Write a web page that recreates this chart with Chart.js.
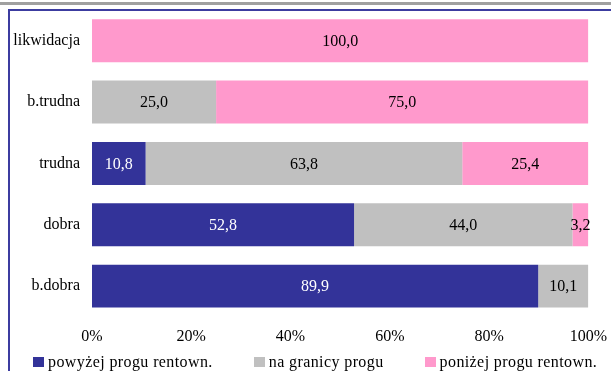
<!DOCTYPE html>
<html>
<head>
<meta charset="utf-8">
<script src="https://cdn.jsdelivr.net/npm/chart.js@4"></script>
<style>
    html, body { margin: 0; padding: 0; background: #fff; }
    #wrap { position: relative; width: 611px; height: 371px; overflow: hidden; }
    #topLine { position: absolute; left: 0; top: 2px; width: 611px; height: 3px; background: #a0a0a0; }
    #frameTop { position: absolute; left: 8px; top: 9px; width: 603px; height: 2px; background: #3c3ca0; }
    #frameLeft { position: absolute; left: 8px; top: 9px; width: 2px; height: 362px; background: #3c3ca0; }
    #chartBox { position: absolute; left: 0; top: 0; width: 617px; height: 356px; }
    #legend { position: absolute; left: 33px; top: 353px; display: flex; align-items: baseline; font-family: "Liberation Serif", "Times New Roman", Tinos, "DejaVu Serif", serif; font-size: 16px; line-height: 18px; letter-spacing: 0.4px; color: #000; white-space: nowrap; }
    #legend .item { display: flex; align-items: baseline; margin-right: 41px; }
    #legend .box { display: inline-block; width: 11px; height: 10px; margin-right: 4px; }
</style>
</head>
<body>
<div id="wrap">
    <div id="topLine"></div>
    <div id="frameTop"></div>
    <div id="frameLeft"></div>
    <div id="chartBox"><canvas id="barChart"></canvas></div>
    <div id="legend"></div>
</div>
<script>
// Categories (top to bottom)
const categories = ['likwidacja', 'b.trudna', 'trudna', 'dobra', 'b.dobra'];

// Series values (%)
const aboveThreshold = [0, 0, 10.8, 52.8, 89.9];
const atThreshold = [0, 25.0, 63.8, 44.0, 10.1];
const belowThreshold = [100.0, 75.0, 25.4, 3.2, 0];

const seriesNames = ['powyżej progu rentown.', 'na granicy progu', 'poniżej progu rentown.'];
const seriesColors = ['#333399', '#c0c0c0', '#ff99cc'];
const labelColors = ['#ffffff', '#000000', '#000000'];

const xTicks = [0, 20, 40, 60, 80, 100];

const FONT = '"Liberation Serif", "Times New Roman", Tinos, "DejaVu Serif", serif';

function fmt(v) {
    return v.toFixed(1).replace('.', ',');
}

// draws the value in the middle of each bar segment
const segmentLabels = {
    id: 'segmentLabels',
    afterDatasetsDraw(chart) {
        const ctx = chart.ctx;
        ctx.save();
        ctx.font = '16px ' + FONT;
        ctx.textAlign = 'center';
        ctx.textBaseline = 'middle';
        chart.data.datasets.forEach((ds, di) => {
            const meta = chart.getDatasetMeta(di);
            meta.data.forEach((bar, i) => {
                const v = ds.data[i];
                if (!v) return;
                const x = (bar.x + bar.base) / 2;
                ctx.fillStyle = labelColors[di];
                ctx.fillText(fmt(v), x, bar.y + 1);
            });
        });
        ctx.restore();
    }
};

const datasets = [aboveThreshold, atThreshold, belowThreshold].map((vals, i) => ({
    label: seriesNames[i],
    data: vals,
    backgroundColor: seriesColors[i],
    borderWidth: 0,
    barPercentage: 0.7,
    categoryPercentage: 1.0
}));

new Chart(document.getElementById('barChart'), {
    type: 'bar',
    data: { labels: categories, datasets: datasets },
    options: {
        indexAxis: 'y',
        responsive: true,
        maintainAspectRatio: false,
        animation: false,
        layout: { padding: { top: 10, right: 0, left: 0, bottom: 0 } },
        plugins: {
            legend: { display: false },
            tooltip: { enabled: false }
        },
        scales: {
            x: {
                stacked: true,
                min: 0,
                max: 100,
                afterBuildTicks: (scale) => { scale.ticks = xTicks.map(v => ({ value: v })); },
                grid: { display: false, drawTicks: false },
                border: { display: false },
                ticks: {
                    padding: 10,
                    color: '#000',
                    font: { family: FONT, size: 16 },
                    callback: (v) => v + '%'
                }
            },
            y: {
                stacked: true,
                afterFit: (scale) => {
                    scale.width = 92;
                    // bars fill the bands, no extra room for the label halves
                    scale.paddingTop = 0;
                    scale.paddingBottom = 0;
                },
                grid: { display: false, drawTicks: false },
                border: { display: false },
                ticks: {
                    padding: 12,
                    color: '#000',
                    font: { family: FONT, size: 16 }
                }
            }
        }
    },
    plugins: [segmentLabels]
});

// HTML legend built from the datasets
const legendEl = document.getElementById('legend');
datasets.forEach(ds => {
    const item = document.createElement('div');
    item.className = 'item';
    const box = document.createElement('span');
    box.className = 'box';
    box.style.background = ds.backgroundColor;
    const txt = document.createElement('span');
    txt.textContent = ds.label;
    item.appendChild(box);
    item.appendChild(txt);
    legendEl.appendChild(item);
});
</script>
</body>
</html>
